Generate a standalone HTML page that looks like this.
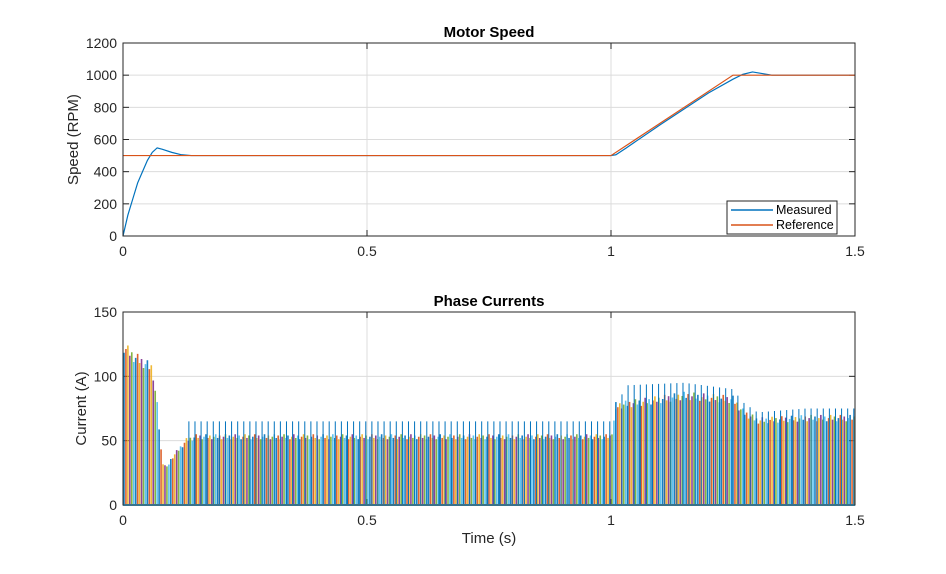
<!DOCTYPE html>
<html><head><meta charset="utf-8"><style>
body{margin:0;background:#fff;font-family:"Liberation Sans",sans-serif}
svg text{font-family:"Liberation Sans",sans-serif}
</style></head><body>
<svg id="c" width="946" height="569" xmlns="http://www.w3.org/2000/svg">
<rect width="946" height="569" fill="#fff"/>
<g id="topAx"></g>
<g id="botAx"></g>
</svg>
<script>
const NS="http://www.w3.org/2000/svg";
// Motor speed data
const measT=[0,0.01,0.02,0.03,0.04,0.05,0.06,0.07,0.08,0.1,0.12,0.14,1.0,1.01,1.03,1.1,1.2,1.25,1.27,1.29,1.31,1.33,1.5];
const measV=[0,130,230,330,400,470,520,548,540,520,505,500,500,505,545,690,890,975,1005,1020,1010,1000,1000];
const refT=[0,1.0,1.25,1.5];
const refV=[500,500,1000,1000];
const speedTicks=[0,200,400,600,800,1000,1200];
const timeTicks=[0,0.5,1,1.5];
const timeLabels=["0","0.5","1","1.5"];
// Phase current envelopes
const envT=[0,0.02,0.06,0.07,0.08,0.09,0.1,0.13,0.15,1.0,1.005,1.01,1.1,1.15,1.25,1.27,1.3,1.4,1.5];
const envV=[128,120,110,80,35,30,38,52,55,55,65,80,85,88,85,75,68,70,70];
const spikeT=[0.13,1.0,1.03,1.15,1.25,1.27,1.3,1.4,1.5];
const spikeV=[65,65,93,95,90,80,72,75,75];
const curTicks=[0,50,100,150];
const colors=["#0072BD","#D95319","#EDB120","#7E2F8E","#77AC30","#4DBEEE"];

function el(p,tag,a,txt){const e=document.createElementNS(NS,tag);for(const k in a)e.setAttribute(k,a[k]);if(txt!==undefined)e.textContent=txt;p.appendChild(e);return e;}
function interp(T,V,t){if(t<=T[0])return V[0];for(let i=1;i<T.length;i++)if(t<=T[i]){const f=(t-T[i-1])/(T[i]-T[i-1]);return V[i-1]+f*(V[i]-V[i-1]);}return V[V.length-1];}
const X0=123,X1=855;
const sx=t=>X0+t/1.5*(X1-X0);

function axes(g,y0,y1,ymax,yticks,title,ylabel,showX,ylx){
  const sy=v=>y1-v/ymax*(y1-y0);
  for(const v of yticks){const y=sy(v);
    if(v>0&&v<ymax){const l=el(g,"line",{x1:X0,x2:X1,y1:y,y2:y,stroke:"#dcdcdc","stroke-width":1});}
    const t=el(g,"text",{x:X0-6,y:y+5,"text-anchor":"end","font-size":14,fill:"#262626"},String(v));
    el(g,"line",{x1:X0,x2:X0+6,y1:y,y2:y,stroke:"#262626"});el(g,"line",{x1:X1,x2:X1-6,y1:y,y2:y,stroke:"#262626"});
  }
  timeTicks.forEach((v,i)=>{const x=sx(v);
    if(v>0&&v<1.5){const l=el(g,"line",{x1:x,x2:x,y1:y0,y2:y1,stroke:"#dcdcdc"});}
    const t=el(g,"text",{x:x,y:y1+20,"text-anchor":"middle","font-size":14,fill:"#262626"},timeLabels[i]);
    el(g,"line",{x1:x,x2:x,y1:y1,y2:y1-6,stroke:"#262626"});el(g,"line",{x1:x,x2:x,y1:y0,y2:y0+6,stroke:"#262626"});
  });
  const tt=el(g,"text",{x:(X0+X1)/2,y:y0-6,"text-anchor":"middle","font-size":15,"font-weight":"bold",fill:"#000"},title);
  const yl=el(g,"text",{x:0,y:0,"text-anchor":"middle","font-size":15,fill:"#262626",transform:`translate(${ylx},${(y0+y1)/2}) rotate(-90)`},ylabel);
  if(showX){const xl=el(g,"text",{x:(X0+X1)/2,y:y1+38,"text-anchor":"middle","font-size":15,fill:"#262626"},"Time (s)");}
  return sy;
}
// top
const topG=document.getElementById("topAx");
const syT=axes(topG,43,236,1200,speedTicks,"Motor Speed","Speed (RPM)",false,78);
const pm=measT.map((t,i)=>sx(t)+","+syT(measV[i])).join(" ");
const pr=refT.map((t,i)=>sx(t)+","+syT(refV[i])).join(" ");
const l1=el(topG,"polyline",{points:pm,fill:"none",stroke:"#0072BD","stroke-width":1.2});
const l2=el(topG,"polyline",{points:pr,fill:"none",stroke:"#D95319","stroke-width":1.2});
el(topG,"rect",{x:X0,y:43,width:X1-X0,height:193,fill:"none",stroke:"#262626"});
const lg=el(topG,"g",{});
el(lg,"rect",{x:727,y:201,width:110,height:33,fill:"#fff",stroke:"#262626"});
el(lg,"line",{x1:731,x2:773,y1:210,y2:210,stroke:"#0072BD","stroke-width":1.5});
el(lg,"line",{x1:731,x2:773,y1:225,y2:225,stroke:"#D95319","stroke-width":1.5});
el(lg,"text",{x:776,y:214,"font-size":12.5,fill:"#000"},"Measured");
el(lg,"text",{x:776,y:229,"font-size":12.5,fill:"#000"},"Reference");
// bottom
const botG=document.getElementById("botAx");
const syB=axes(botG,312,505,150,curTicks,"Phase Currents","Current (A)",true,86);
const marks=el(botG,"g",{});
const step=0.004;let k=0;
for(let t=0.002;t<1.5;t+=step,k++){
  const c=colors[k%6];
  const h=interp(envT,envV,t)*(0.93+0.07*((k*7)%5)/4);
  const l=el(marks,"line",{x1:sx(t),x2:sx(t),y1:syB(0),y2:syB(h),stroke:c,"stroke-width":1.6,"stroke-opacity":0.9});
  
}
for(let t=0.135;t<1.5;t+=0.0125){
  const h=interp(spikeT,spikeV,t);
  const l=el(marks,"line",{x1:sx(t),x2:sx(t),y1:syB(0),y2:syB(h),stroke:"#0072BD","stroke-width":1});
  
}
el(botG,"line",{x1:X0,x2:X1,y1:505,y2:505,stroke:"#4DBEEE","stroke-width":2});
el(botG,"rect",{x:X0,y:312,width:X1-X0,height:193,fill:"none",stroke:"#262626"});
</script>
</body></html>
